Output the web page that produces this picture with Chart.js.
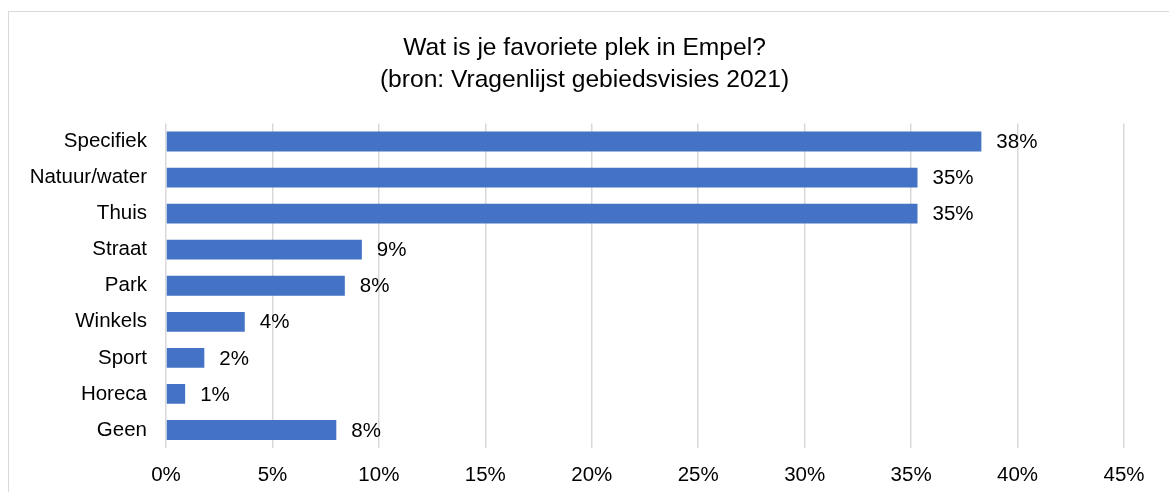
<!DOCTYPE html>
<html>
<head>
<meta charset="utf-8">
<script src="https://cdn.jsdelivr.net/npm/chart.js@4/dist/chart.umd.min.js"></script>
<style>
    html, body { margin: 0; padding: 0; background: #fff; }
    #frame {
        position: absolute; left: 8px; top: 11px;
        width: 1200px; height: 520px;
        border: 1px solid #d9d9d9;
    }
    #wrap { position: absolute; left: 0; top: 0; width: 1169px; height: 492px; }
</style>
</head>
<body>
<div id="frame"></div>
<div id="wrap"><canvas id="chart"></canvas></div>
<script>
// --- Data ---
const categories = ['Specifiek', 'Natuur/water', 'Thuis', 'Straat', 'Park', 'Winkels', 'Sport', 'Horeca', 'Geen'];
const shares = [38.3, 35.3, 35.3, 9.2, 8.4, 3.7, 1.8, 0.9, 8.0];
const tickSteps = [0, 5, 10, 15, 20, 25, 30, 35, 40, 45];

const FONT = '"Liberation Sans", Arial, sans-serif';

// value labels at the end of each bar
const barLabels = {
    id: 'barLabels',
    afterDatasetsDraw(chart) {
        const ctx = chart.ctx;
        const meta = chart.getDatasetMeta(0);
        ctx.save();
        ctx.font = '20.5px ' + FONT;
        ctx.fillStyle = '#000';
        ctx.textAlign = 'left';
        ctx.textBaseline = 'middle';
        meta.data.forEach((bar, i) => {
            ctx.fillText(Math.round(shares[i]) + '%', bar.x + 15, bar.y + 1);
        });
        ctx.restore();
    }
};

new Chart(document.getElementById('chart'), {
    type: 'bar',
    data: {
        labels: categories,
        datasets: [{
            data: shares,
            backgroundColor: '#4472C4',
            borderWidth: 0,
            categoryPercentage: 1,
            barPercentage: 0.55
        }]
    },
    options: {
        indexAxis: 'y',
        responsive: true,
        maintainAspectRatio: false,
        animation: false,
        layout: { padding: 0 },
        plugins: {
            legend: { display: false },
            tooltip: { enabled: false },
            title: {
                display: true,
                text: ['Wat is je favoriete plek in Empel?', '(bron: Vragenlijst gebiedsvisies 2021)'],
                color: '#000',
                font: { family: FONT, size: 24.6, weight: 'normal', lineHeight: 1.27 },
                padding: { top: 33, bottom: 28 }
            }
        },
        scales: {
            x: {
                min: 0,
                max: 45,
                afterBuildTicks(scale) {
                    scale.ticks = tickSteps.map(v => ({ value: v }));
                },
                afterFit(scale) {
                    scale.paddingRight = 45;
                    scale.height = 44;
                },
                grid: { color: '#d9d9d9', lineWidth: 1.5, drawTicks: false },
                border: { display: false },
                ticks: {
                    color: '#000',
                    padding: 15,
                    font: { family: FONT, size: 20.5 },
                    callback: v => v + '%'
                }
            },
            y: {
                afterFit(scale) {
                    scale.width = 166;
                },
                grid: { display: false, drawTicks: false },
                border: { display: false },
                ticks: {
                    color: '#000',
                    padding: 19,
                    font: { family: FONT, size: 20.5 }
                }
            }
        }
    },
    plugins: [barLabels]
});
</script>
</body>
</html>
